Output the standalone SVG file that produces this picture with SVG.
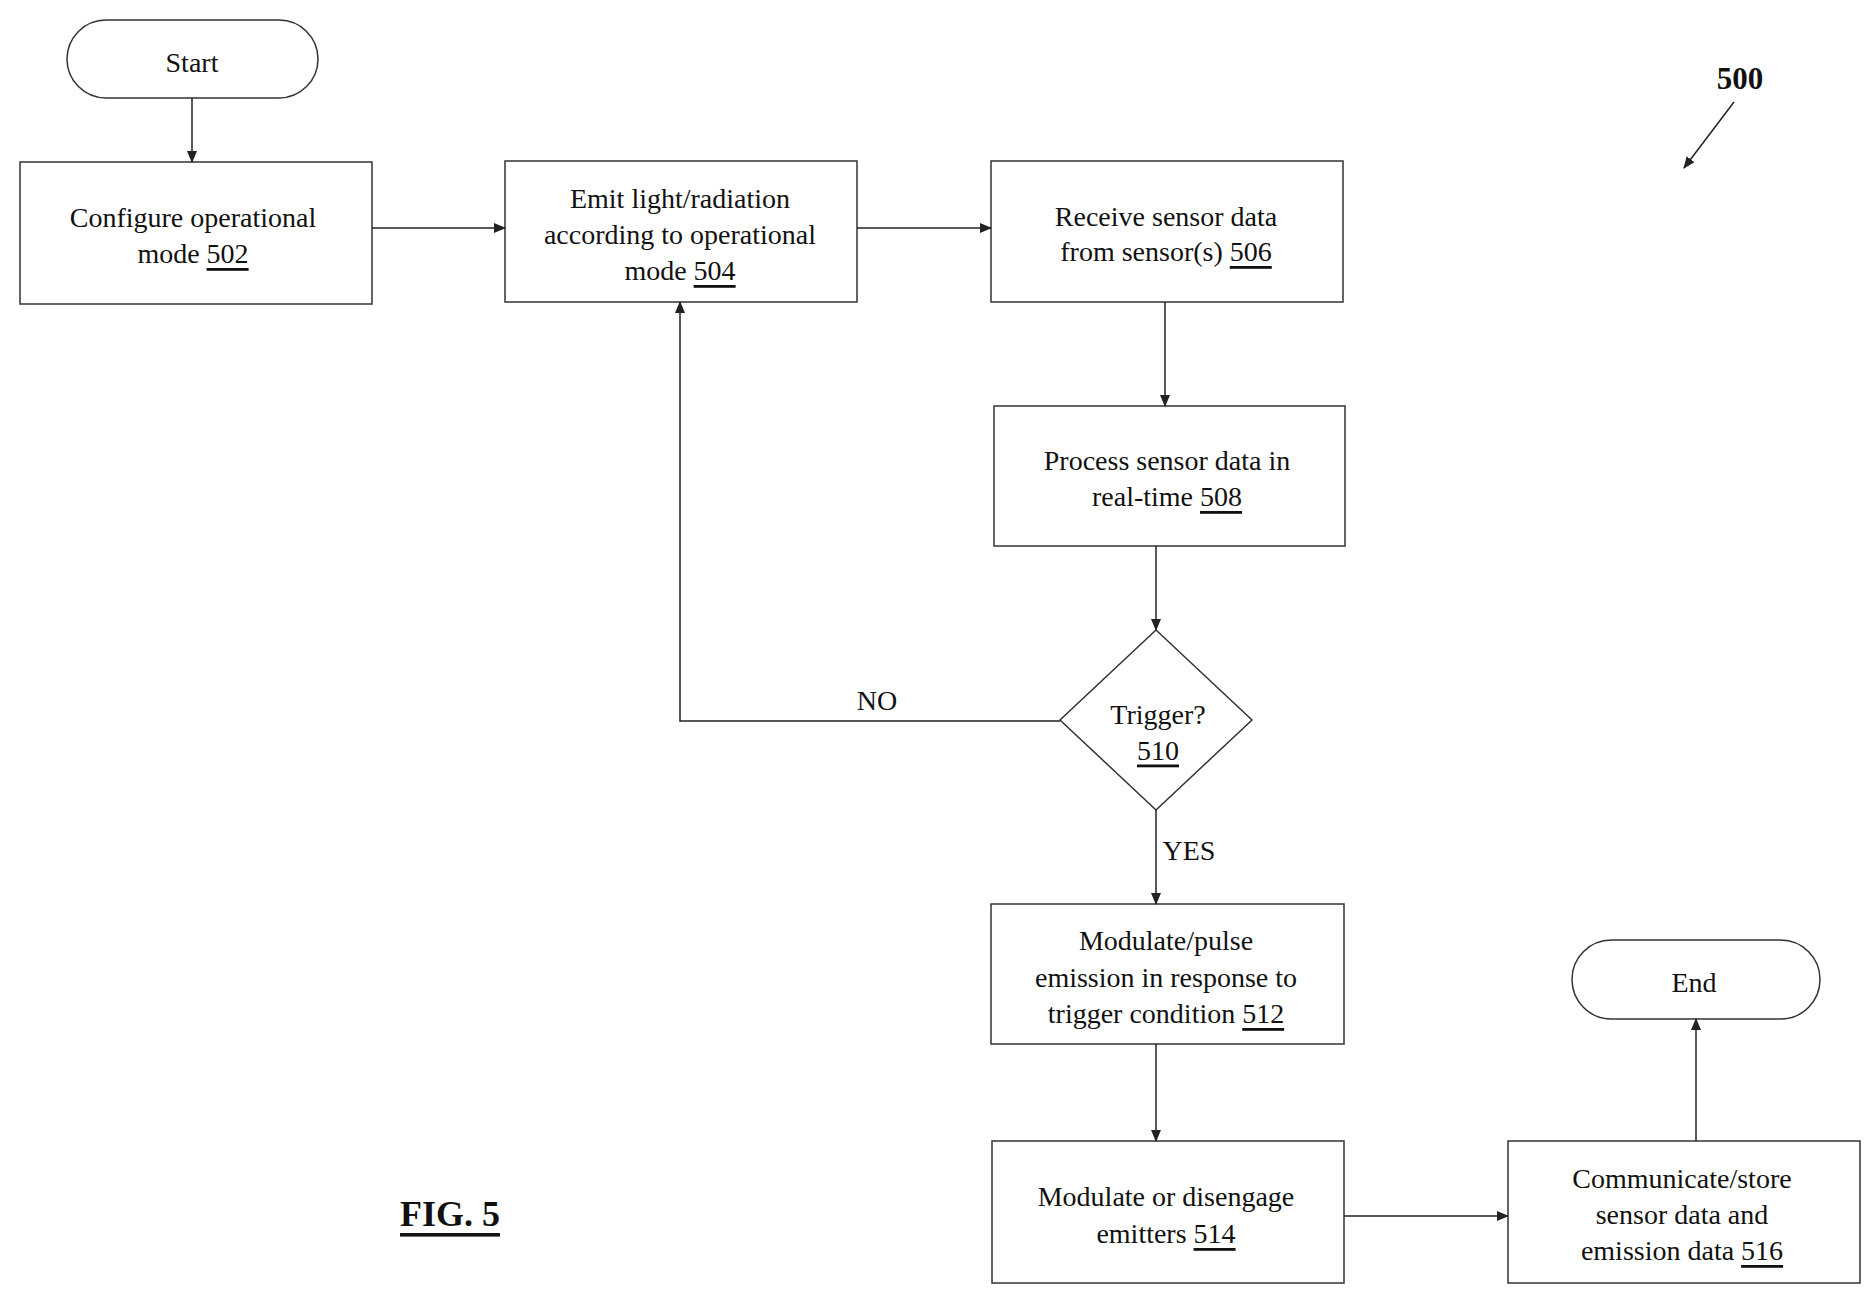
<svg xmlns="http://www.w3.org/2000/svg" width="1875" height="1299" viewBox="0 0 1875 1299">
<style>
.b{fill:#fff;stroke:#333;stroke-width:1.5}
text{font-family:"Liberation Serif",serif;font-size:28px;fill:#111;text-anchor:middle;dominant-baseline:central}
.c{fill:none;stroke:#222;stroke-width:1.5;marker-end:url(#a)}
</style>
<defs><marker id="a" markerWidth="12" markerHeight="10" refX="11" refY="5" orient="auto" markerUnits="userSpaceOnUse"><path d="M0,0L12,5L0,10z" fill="#222"/></marker></defs>
<rect width="1875" height="1299" fill="#fff"/>
<g id="start"><rect class="b" x="67" y="20" width="251" height="78" rx="39"/><text x="192" y="62">Start</text></g>
<g id="n502"><rect class="b" x="20" y="162" width="352" height="142"/><text x="193" y="217">Configure operational</text><text x="193" y="253">mode <tspan text-decoration="underline">502</tspan></text></g>
<g id="n504"><rect class="b" x="505" y="161" width="352" height="141"/><text x="680" y="198">Emit light/radiation</text><text x="680" y="234">according to operational</text><text x="680" y="270">mode <tspan text-decoration="underline">504</tspan></text></g>
<g id="n506"><rect class="b" x="991" y="161" width="352" height="141"/><text x="1166" y="216">Receive sensor data</text><text x="1166" y="251">from sensor(s) <tspan text-decoration="underline">506</tspan></text></g>
<g id="n508"><rect class="b" x="994" y="406" width="351" height="140"/><text x="1167" y="460">Process sensor data in</text><text x="1167" y="496">real-time <tspan text-decoration="underline">508</tspan></text></g>
<g id="n510"><polygon class="b" points="1156,630 1252,720 1156,810 1060,720"/><text x="1158" y="714">Trigger?</text><text x="1158" y="750" text-decoration="underline">510</text></g>
<g id="n512"><rect class="b" x="991" y="904" width="353" height="140"/><text x="1166" y="940">Modulate/pulse</text><text x="1166" y="977">emission in response to</text><text x="1166" y="1013">trigger condition <tspan text-decoration="underline">512</tspan></text></g>
<g id="n514"><rect class="b" x="992" y="1141" width="352" height="142"/><text x="1166" y="1196">Modulate or disengage</text><text x="1166" y="1233">emitters <tspan text-decoration="underline">514</tspan></text></g>
<g id="n516"><rect class="b" x="1508" y="1141" width="352" height="142"/><text x="1682" y="1178">Communicate/store</text><text x="1682" y="1214">sensor data and</text><text x="1682" y="1250">emission data <tspan text-decoration="underline">516</tspan></text></g>
<g id="end"><rect class="b" x="1572" y="940" width="248" height="79" rx="39.5"/><text x="1694" y="982">End</text></g>
<g id="connectors">
<path class="c" d="M192,98V162"/>
<path class="c" d="M372,228H505"/>
<path class="c" d="M857,228H991"/>
<path class="c" d="M1165,302V406"/>
<path class="c" d="M1156,546V630"/>
<path class="c" d="M1156,810V904"/>
<path class="c" d="M1060,721H680V302"/>
<path class="c" d="M1156,1044V1141"/>
<path class="c" d="M1344,1216H1508"/>
<path class="c" d="M1696,1141V1019"/>
<text x="877" y="700">NO</text>
<text x="1189" y="850">YES</text>
</g>
<g id="label500"><text x="1740" y="78" style="font-weight:bold;font-size:31px">500</text><path class="c" d="M1734,102L1684,168"/></g>
<text x="450" y="1214" style="font-weight:bold;font-size:36px" text-decoration="underline">FIG. 5</text>
</svg>
